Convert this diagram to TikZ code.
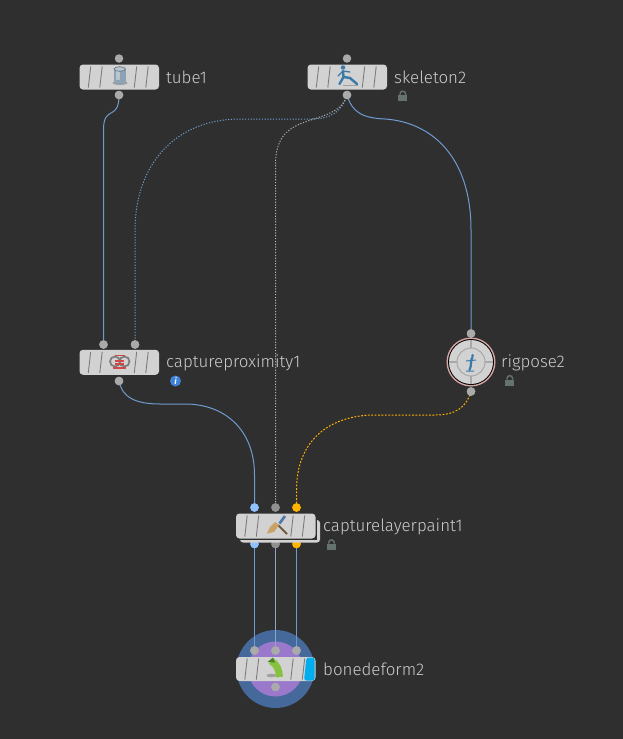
\documentclass[tikz,border=0pt]{standalone}
\usepackage{fontspec}
\setmainfont{Fira Sans}[UprightFont=* Light]
\usetikzlibrary{calc}
\definecolor{bg}{HTML}{2F2F2F}
\definecolor{boxc}{HTML}{D2D2D2}
\definecolor{dotc}{HTML}{AAAAAA}
\definecolor{wire}{HTML}{6F9BCF}
\definecolor{wirey}{HTML}{FFB400}
\definecolor{wireg}{HTML}{B0B0B0}
\definecolor{lbl}{HTML}{CCCCCC}
\definecolor{lockc}{HTML}{66726C}
\definecolor{portblue}{HTML}{8FC1FF}
\definecolor{slashc}{HTML}{7C7C7C}
\definecolor{halob}{HTML}{46699C}
\definecolor{halop}{HTML}{9A78CC}
\definecolor{portmid}{HTML}{909090}
\definecolor{wiremid}{HTML}{8CA6C6}
\definecolor{cylb}{HTML}{8DA3B5}
\definecolor{cyld}{HTML}{5B6B78}
\definecolor{cyll}{HTML}{B9C6D0}
\definecolor{figb}{HTML}{3A7AA8}
\definecolor{figs}{HTML}{A0A0A0}
\definecolor{capr}{HTML}{D04848}
\definecolor{infob}{HTML}{3F82D8}
\definecolor{rigp}{HTML}{D9A6A6}
\definecolor{riggr}{HTML}{A8A8A8}
\definecolor{brw}{HTML}{6E5A3A}
\definecolor{brb}{HTML}{C9A265}
\definecolor{bru}{HTML}{4E78B0}
\definecolor{cyanb}{HTML}{00AEEF}
\definecolor{greenb}{HTML}{86C240}
\definecolor{greend}{HTML}{4F7F2A}
\tikzset{
  x=1pt,y=-1pt,
  nodebox/.style={draw=none,fill=boxc,rounded corners=3.5pt,minimum width=79.5pt,minimum height=25pt,inner sep=0pt,outer sep=0pt},
  port/.style={circle,fill=dotc,minimum size=8.5pt,inner sep=0pt,outer sep=0pt},
  lab/.style={text=lbl,font=\fontsize{16.9}{20}\selectfont,anchor=west,inner sep=0pt},
  wirea/.style={draw=wire,line width=1pt},
  wired/.style={draw=wire,line width=1pt,dash pattern=on 1.2pt off 1.6pt},
  wiregd/.style={draw=wireg,line width=1pt,dash pattern=on 1.2pt off 1.6pt},
  wireyd/.style={draw=wirey,line width=1pt,dash pattern=on 1.8pt off 1.6pt},
  slash/.style={draw=slashc,line width=.9pt},
}
\newcommand{\slashes}[2]{%
  \foreach \d in {10,21.5,56,67.5}{\draw[slash] ($(#1,#2)+(\d-1.2,10.5)$) -- ($(#1,#2)+(\d+1.2,-10.5)$);}}
\newcommand{\lockicon}[2]{%
  \draw[lockc,line width=1.4pt] (#1-2.8,#2-1) -- (#1-2.8,#2-2) .. controls (#1-2.8,#2-5.8) and (#1+2.8,#2-5.8) .. (#1+2.8,#2-2) -- (#1+2.8,#2-1);
  \fill[lockc] (#1-4.5,#2-1) rectangle (#1+4.5,#2+5);}
\begin{document}
\begin{tikzpicture}
\useasboundingbox[fill=bg] (0,0) rectangle (623,739);

% bonedeform halo
\fill[halob] (275.5,669) circle[radius=39];
\fill[halop] (275.5,669) circle[radius=27.5];

% ports
\node[port] (t1i) at (119,58.5) {};
\node[port] (t1o) at (119,95) {};
\node[port] (s2i) at (347,58.5) {};
\node[port] (s2o) at (347,95) {};
\node[port] (cpa) at (103.5,344.5) {};
\node[port] (cpb) at (135,344.5) {};
\node[port] (cpo) at (119,381) {};
\node[port] (rpi) at (471,333.5) {};
\node[port] (rpo) at (471,391.5) {};
\node[port,fill=portblue] (cla) at (254.5,507.5) {};
\node[port,fill=portmid] (clb) at (275.5,507.5) {};
\node[port,fill=wirey] (clc) at (296.5,507.5) {};
\node[port,fill=portblue] (cld) at (254.5,544) {};
\node[port,fill=portmid] (cle) at (275.5,544) {};
\node[port,fill=wirey] (clf) at (296.5,544) {};
\node[port] (bda) at (254.5,650.5) {};
\node[port] (bdb) at (275.5,650.5) {};
\node[port] (bdc) at (296.5,650.5) {};
\node[port] (bdo) at (275.5,687) {};

% wires
\draw[wirea] (t1o.center) .. controls (119,122) and (103.5,104) .. (103.5,130) -- (cpa.center);
\draw[wired] (s2o.center) .. controls (342,112) and (330,119) .. (312,119) -- (240,119) .. controls (175,119) and (135,165) .. (135,230) -- (cpb.center);
\draw[wiregd] (s2o.center) .. controls (342,112) and (325,115) .. (305,122) .. controls (285,129) and (275.5,140) .. (275.5,165) -- (clb.center);
\draw[wirea] (s2o.center) .. controls (352,112) and (362,118) .. (385,119) .. controls (430,122) and (471,155) .. (471,230) -- (rpi.center);
\draw[wirea] (cpo.center) .. controls (122,397) and (135,404) .. (160,404) -- (185,404) .. controls (225,404) and (254.5,430) .. (254.5,475) -- (cla.center);
\draw[wireyd] (rpo.center) .. controls (466,408) and (455,415) .. (435,415) -- (375,415) .. controls (330,415) and (296.5,440) .. (296.5,490) -- (clc.center);
\draw[wirea] (cld.center) -- (bda.center);
\draw[draw=wiremid,line width=1pt] (cle.center) -- (bdb.center);
\draw[wirea] (clf.center) -- (bdc.center);
% ports above wires
\foreach \n in {t1o,s2o,cpa,cpb,cpo,rpi,rpo,bda,bdb,bdc}{\fill[dotc] (\n) circle[radius=4.25];}
\fill[portblue] (cla) circle[radius=4.25];
\fill[portblue] (cld) circle[radius=4.25];
\fill[portmid] (clb) circle[radius=4.25];
\fill[portmid] (cle) circle[radius=4.25];
\fill[wirey] (clc) circle[radius=4.25];
\fill[wirey] (clf) circle[radius=4.25];

% tube1
\node[nodebox] (tube) at (119.25,77) {};
\slashes{79.5}{77}
\fill[figs] (120,83) ellipse[x radius=7.5,y radius=2];
\fill[cylb] (114,69) rectangle (125.5,82);
\fill[cyll] (116,69) rectangle (120,82);
\fill[cylb] (119.75,82) ellipse[x radius=5.75,y radius=2.3];
\fill[cyll] (119.75,69) ellipse[x radius=5.75,y radius=2.3];
\draw[cyld,line width=.6pt] (119.75,69) ellipse[x radius=5.75,y radius=2.3];
\node[lab] (tubel) at (166,77) {tube1};

% skeleton2
\node[nodebox] (skel) at (347.25,77) {};
\slashes{307.5}{77}
\draw[figs,line width=1pt] (343,85) -- (358,85);
\draw[figb,line width=2.4pt,line cap=round] (343,71) -- (343.5,77) -- (339.5,84) (343.5,77) -- (350,78) -- (357,84);
\draw[figb,line width=1.3pt,line cap=round] (343,71) -- (350,72) (343,71) -- (338,76);
\fill[figb] (343,67.5) circle[radius=2.2];
\node[lab] (skell) at (394,77) {skeleton2};
\lockicon{402.8}{96}

% captureproximity1
\node[nodebox] (capp) at (119.25,362.3) {};
\slashes{79.5}{362.3}
\draw[slashc,line width=1.7pt] (115,361.5) ellipse[x radius=5,y radius=5];
\draw[slashc,line width=1.7pt] (124.5,361.5) ellipse[x radius=5,y radius=5];
\draw[capr,line width=1.1pt] (115,355.5) -- (125,355.5) (113,368) -- (126,368) (115,361) -- (124,361) (115,364) -- (124,364);
\node[lab] (cappl) at (166,362.5) {captureproximity1};
\fill[infob] (175.5,381) circle[radius=5.5];
\node[text=white,font=\fontsize{9}{9}\selectfont\bfseries\itshape,inner sep=0pt] (info) at (175.5,381) {i};

% rigpose2
\fill[rigp] (471,362) circle[radius=24.5];
\fill[black] (471,362) circle[radius=23];
\fill[boxc] (471,362) circle[radius=22];
\draw[riggr,line width=1pt] (471,362) circle[radius=14];
\foreach \a/\b in {-22/-14,14/22}{\draw[riggr,line width=1.5pt] (471+\a,362) -- (471+\b,362) (471,362+\a) -- (471,362+\b);}
\draw[figb,line width=2.2pt,line cap=round] (472.5,357) .. controls (470,361) and (472,365) .. (469.5,370);
\draw[figb,line width=1pt] (466,361) -- (476,360) (466,371) -- (474,371);
\fill[figb] (472.5,355.5) circle[radius=1.5];
\node[lab] (rigl) at (501,362.5) {rigpose2};
\lockicon{509.8}{380.5}

% capturelayerpaint1
\fill[boxc,rounded corners=3pt] (240,520) rectangle (320,542.5);
\fill[bg] (236,517) rectangle (317,540);
\node[nodebox] (clp) at (275.75,526) {};
\slashes{236}{526}
\draw[brw,line width=2pt] (278,525) -- (287,534);
\draw[bru,line width=2.6pt] (279.5,523.5) -- (285,516);
\fill[brb] (267,533.5) -- (274,532) -- (279,525) -- (275,522) -- (270,527) -- cycle;
\node[lab] (clpl) at (323,526.5) {capturelayerpaint1};
\lockicon{331.5}{544.7}

% bonedeform2
\node[nodebox,minimum height=24pt] (bone) at (275.75,669) {};
\slashes{236}{669}
\fill[cyanb,rounded corners=2.5pt] (306.5,657.5) -- (314.7,657.5) -- (314.7,680.5) -- (304,680.5) -- cycle;
\fill[figs] (271.5,675.5) ellipse[x radius=5,y radius=1.8];
\draw[greenb,line width=7pt] (271,661) .. controls (277,664) and (279,670) .. (279.5,677);
\fill[greend] (267.5,662) -- (273,657.5) -- (275,662.5) -- cycle;
\node[lab] (bonel) at (323,669.5) {bonedeform2};
\fill[dotc] (bda) circle[radius=4.25];
\fill[dotc] (bdb) circle[radius=4.25];
\fill[dotc] (bdc) circle[radius=4.25];
\fill[dotc] (bdo) circle[radius=4.25];
\end{tikzpicture}
\end{document}
